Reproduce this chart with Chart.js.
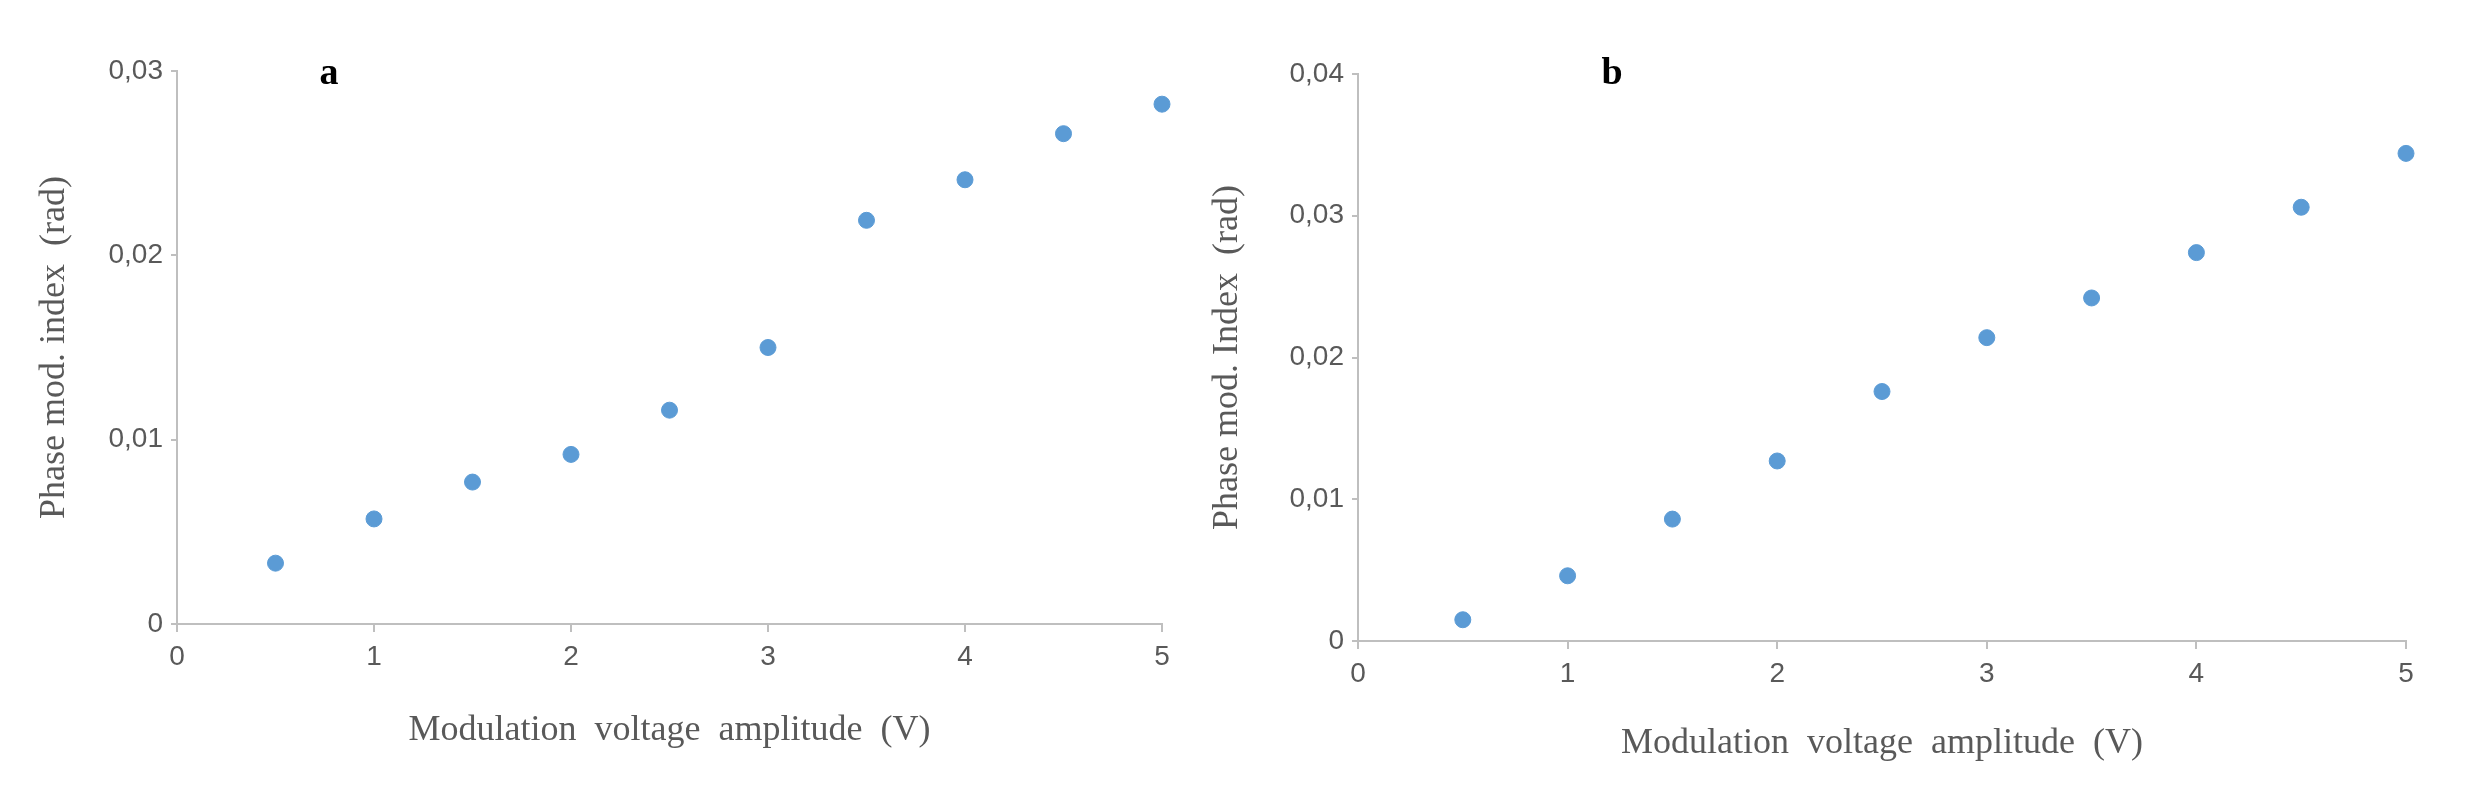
<!DOCTYPE html>
<html><head><meta charset="utf-8">
<script src="https://cdn.jsdelivr.net/npm/chart.js@4/dist/chart.umd.min.js"></script>
<style>body{margin:0;background:#fff;width:2482px;height:796px;position:relative;overflow:hidden}
.c{position:absolute;top:0;height:796px}</style></head><body>
<div class="c" style="left:0;width:1190px"><canvas id="a"></canvas></div>
<div class="c" style="left:1190px;width:1292px"><canvas id="b"></canvas></div>
<script>
const voltages = [0.5,1,1.5,2,2.5,3,3.5,4,4.5,5];
const indexA = [0.0033,0.0057,0.0077,0.0092,0.0116,0.0150,0.0219,0.0241,0.0266,0.0282];
const indexB = [0.0015,0.0046,0.0086,0.0127,0.0176,0.0214,0.0242,0.0274,0.0306,0.0344];
const xTitle = 'Modulation  voltage  amplitude  (V)';
const yTitleA = 'Phase mod. index  (rad)';
const yTitleB = 'Phase mod. Index  (rad)';

function fmt(v){ return v===0 ? '0' : v.toFixed(2).replace('.',','); }

function make(id, data, yMax, yTitle, letter, o){
  const textPlugin = {id:'txt', afterDraw(ch){
    const c=ch.ctx, a=ch.chartArea;
    c.save();
    c.fillStyle='#595959'; c.font='36px "Liberation Serif"';
    c.textAlign='center'; c.textBaseline='middle';
    c.fillText(xTitle,(a.left+a.right)/2,o.xTitleY);
    c.translate(o.yTitleX,(a.top+a.bottom)/2); c.rotate(-Math.PI/2);
    c.fillText(yTitle,0,0);
    c.restore();
    c.save(); c.fillStyle='#000'; c.font='bold 38px "Liberation Serif"';
    c.textAlign='center'; c.textBaseline='middle';
    c.fillText(letter,o.letterX,o.letterY); c.restore();
  }};
  new Chart(document.getElementById(id),{
    type:'scatter',
    data:{datasets:[{data:voltages.map((x,i)=>({x,y:data[i]})),backgroundColor:'#5B9BD5',borderColor:'#5B9BD5',pointRadius:8,clip:false}]},
    options:{responsive:false,animation:false,devicePixelRatio:1,
      layout:{padding:{left:0,right:o.padR,top:o.padT,bottom:0}},
      plugins:{legend:{display:false},tooltip:{enabled:false}},
      scales:{
        x:{type:'linear',min:0,max:5,ticks:{stepSize:1,color:'#595959',font:{family:'"Liberation Sans Narrow", "Liberation Sans"',size:28},padding:8},
          grid:{drawOnChartArea:false,color:'#BFBFBF',tickLength:8,lineWidth:2},border:{color:'#BFBFBF',width:2},
          afterFit(s){s.height=o.xH;}},
        y:{min:0,max:yMax,ticks:{stepSize:0.01,color:'#595959',font:{family:'"Liberation Sans Narrow", "Liberation Sans"',size:28},padding:8,callback:v=>fmt(v)},
          grid:{drawOnChartArea:false,color:'#BFBFBF',tickLength:6,lineWidth:2},border:{color:'#BFBFBF',width:2},
          afterFit(s){s.width=o.yW;}}
      }},
    plugins:[textPlugin]
  });
}
document.getElementById('a').width=1190;document.getElementById('a').height=796;
document.getElementById('b').width=1292;document.getElementById('b').height=796;
make('a',indexA,0.03,yTitleA,'a',{padR:28,padT:71,xH:172,yW:177,xTitleY:731,yTitleX:55,letterX:329,letterY:74});
make('b',indexB,0.04,yTitleB,'b',{padR:76,padT:74,xH:155,yW:168,xTitleY:744,yTitleX:38,letterX:422,letterY:74});
</script></body></html>
